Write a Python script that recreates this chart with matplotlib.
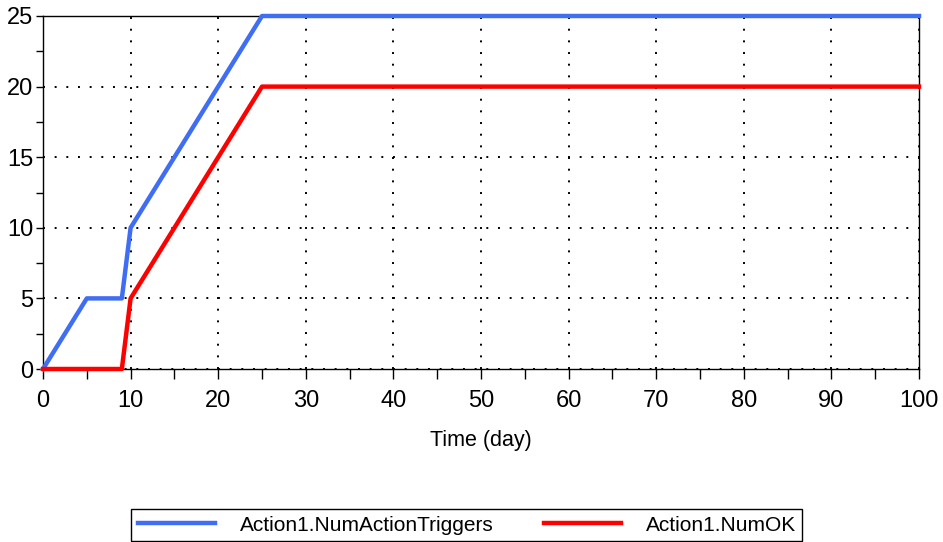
import matplotlib.pyplot as plt
from matplotlib.ticker import MultipleLocator

plt.rcParams['font.family'] = ['Liberation Sans', 'DejaVu Sans']

# data
t_trig = [0, 1, 2, 3, 4, 5, 9, 10, 11, 12, 13, 14, 15, 16, 17, 18, 19, 20, 21, 22, 23, 24, 25, 100]
num_trig = [0, 1, 2, 3, 4, 5, 5, 10, 11, 12, 13, 14, 15, 16, 17, 18, 19, 20, 21, 22, 23, 24, 25, 25]

t_ok = [0, 9, 10, 11, 12, 13, 14, 15, 16, 17, 18, 19, 20, 21, 22, 23, 24, 25, 100]
num_ok = [0, 0, 5, 6, 7, 8, 9, 10, 11, 12, 13, 14, 15, 16, 17, 18, 19, 20, 20]

fig = plt.figure(figsize=(9.43, 5.42), dpi=100)
ax = fig.add_axes([43/943, 1-369/542, (919-43)/943, (369-16)/542])

ax.plot(t_trig, num_trig, color='#3f6ef5', lw=3.2, label='Action1.NumActionTriggers', clip_on=False, zorder=3)
ax.plot(t_ok, num_ok, color='#ff0000', lw=3.2, label='Action1.NumOK', clip_on=False, zorder=3)

ax.set_xlim(0, 100)
ax.set_ylim(0, 25)
ax.xaxis.set_major_locator(MultipleLocator(10))
ax.xaxis.set_minor_locator(MultipleLocator(5))
ax.yaxis.set_major_locator(MultipleLocator(5))
ax.yaxis.set_minor_locator(MultipleLocator(2.5))
ax.tick_params(axis='both', which='both', direction='out', color='black', width=1)
ax.tick_params(axis='x', which='both', length=7, labelsize=17, pad=8)
ax.tick_params(axis='y', which='both', length=5, labelsize=17, pad=2)
ax.grid(True, which='major', color='black', linestyle=(0, (1, 5)), linewidth=1.4)
for s in ax.spines.values():
    s.set_linewidth(1)
    s.set_color('black')

ax.set_xlabel('Time (day)', fontsize=15.5, labelpad=13)

leg = fig.legend(loc='center', bbox_to_anchor=(0.495, 0.031), ncol=2, fontsize=15,
                 handlelength=3.7, handletextpad=1.2, columnspacing=2.4,
                 fancybox=False, edgecolor='black', framealpha=1, borderpad=0.3)
leg.get_frame().set_linewidth(1)

plt.savefig('out.png', dpi=100)
